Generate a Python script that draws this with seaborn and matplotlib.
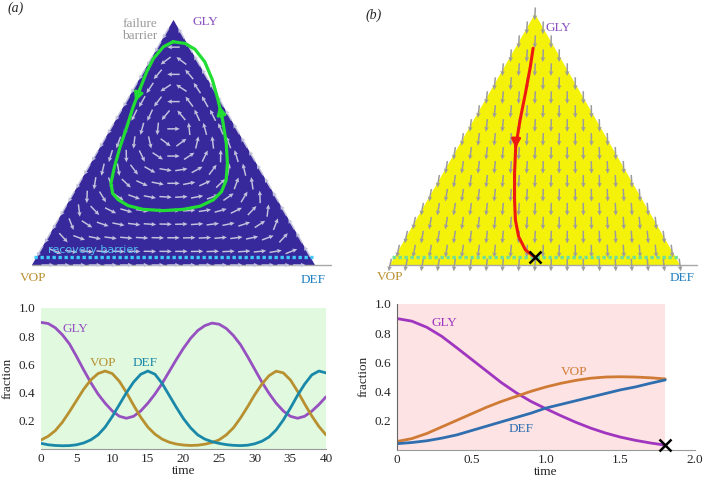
import numpy as np
import pandas as pd
import matplotlib
matplotlib.use("Agg")
import matplotlib.pyplot as plt
import seaborn as sns

# ---- data ----
# (a) cycling dynamics, t = 0..40
time_a = list(range(41))
gly_a = [0.898, 0.89, 0.86, 0.81, 0.745, 0.655, 0.56, 0.47, 0.39, 0.325,
         0.27, 0.232, 0.218, 0.232, 0.27, 0.325, 0.39, 0.465, 0.55, 0.635,
         0.715, 0.785, 0.84, 0.875, 0.893, 0.885, 0.855, 0.805, 0.74, 0.655,
         0.565, 0.475, 0.395, 0.325, 0.27, 0.232, 0.218, 0.232, 0.268, 0.315, 0.37]
vop_a = [0.064, 0.09, 0.13, 0.19, 0.265, 0.345, 0.425, 0.49, 0.535, 0.553,
         0.535, 0.48, 0.40, 0.31, 0.225, 0.155, 0.105, 0.07, 0.048, 0.035,
         0.028, 0.025, 0.027, 0.034, 0.046, 0.065, 0.10, 0.15, 0.22, 0.30,
         0.385, 0.46, 0.52, 0.552, 0.54, 0.49, 0.41, 0.32, 0.235, 0.16, 0.10]
def_a = [0.04, 0.03, 0.025, 0.023, 0.024, 0.03, 0.043, 0.065, 0.10, 0.155,
         0.23, 0.315, 0.40, 0.475, 0.53, 0.553, 0.53, 0.465, 0.38, 0.295,
         0.215, 0.15, 0.10, 0.07, 0.052, 0.04, 0.031, 0.026, 0.024, 0.027,
         0.037, 0.055, 0.085, 0.135, 0.205, 0.29, 0.38, 0.46, 0.525, 0.553, 0.54]

# (a) closed orbit drawn in the simplex (GLY and DEF fractions along the loop)
loop_gly = [0.911, 0.890, 0.843, 0.789, 0.721, 0.645, 0.565, 0.483, 0.401, 0.334,
            0.292, 0.266, 0.242, 0.227, 0.222, 0.227, 0.240, 0.266, 0.299, 0.346,
            0.415, 0.497, 0.591, 0.673, 0.755, 0.829, 0.880, 0.904, 0.911]
loop_def = [0.043, 0.019, 0.008, 0.011, 0.022, 0.035, 0.053, 0.070, 0.091, 0.112,
            0.139, 0.172, 0.219, 0.279, 0.353, 0.421, 0.474, 0.508, 0.520, 0.513,
            0.483, 0.438, 0.378, 0.321, 0.260, 0.196, 0.136, 0.089, 0.043]

# (b) collapse dynamics, t = 0..1.8
time_b = [0.0, 0.1, 0.2, 0.3, 0.4, 0.5, 0.6, 0.7, 0.8, 0.9,
          1.0, 1.1, 1.2, 1.3, 1.4, 1.5, 1.6, 1.7, 1.8]
gly_b = [0.90, 0.882, 0.84, 0.778, 0.70, 0.62, 0.54, 0.46, 0.39, 0.33,
         0.28, 0.232, 0.187, 0.147, 0.113, 0.085, 0.063, 0.045, 0.03]
vop_b = [0.055, 0.075, 0.11, 0.155, 0.20, 0.245, 0.29, 0.33, 0.365, 0.40,
         0.43, 0.455, 0.475, 0.49, 0.498, 0.50, 0.498, 0.493, 0.485]
def_b = [0.04, 0.048, 0.06, 0.078, 0.10, 0.13, 0.16, 0.19, 0.22, 0.25,
         0.285, 0.31, 0.335, 0.36, 0.385, 0.41, 0.43, 0.455, 0.478]

# (b) trajectory drawn in the simplex
path_gly = [0.863, 0.790, 0.684, 0.577, 0.471, 0.365, 0.259, 0.179, 0.113, 0.060, 0.031]
path_def = [0.062, 0.089, 0.125, 0.160, 0.198, 0.247, 0.300, 0.343, 0.387, 0.437, 0.484]

barrier_level = 0.033   # GLY fraction of the dotted barrier line

# colours
col_a = {"GLY": "#9650c0", "VOP": "#b89030", "DEF": "#1a88a8"}
col_b = {"GLY": "#a035c0", "VOP": "#d07b35", "DEF": "#2f6fb0"}

sns.set_style("white")
plt.rcParams["font.family"] = "serif"
plt.rcParams["font.serif"] = ["Liberation Serif", "DejaVu Serif"]

W, H = 704, 483
fig = plt.figure(figsize=(W / 100, H / 100), dpi=100)
S3 = np.sqrt(3) / 2


def px_axes(x0, y0, x1, y1):
    return fig.add_axes([x0 / W, 1 - y1 / H, (x1 - x0) / W, (y1 - y0) / H])


def tern(gly, dfc):
    gly = np.asarray(gly, float)
    dfc = np.asarray(dfc, float)
    return dfc + gly / 2, gly * S3


def tri_axes(ox, oy, s, box):
    x0, y0, x1, y1 = box
    ax = px_axes(x0, y0, x1, y1)
    ax.set_xlim((x0 - ox) / s, (x1 - ox) / s)
    ax.set_ylim((oy - y1) / s, (oy - y0) / s)
    ax.axis("off")
    return ax


def grid(n):
    g, d = [], []
    for j in range(n + 1):
        for i in range(n + 1 - j):
            g.append(j / n)
            d.append(i / n)
    g = np.array(g)
    d = np.array(d)
    return g, 1 - g - d, d


def arrows(ax, X, Y, U, V, color, L=0.044):
    nrm = np.hypot(U, V)
    ok = nrm > 1e-9
    ax.quiver(X[ok], Y[ok], U[ok] / nrm[ok] * L, V[ok] / nrm[ok] * L,
              angles="xy", scale_units="xy", scale=1, pivot="mid",
              color=color, width=0.0045, headwidth=3, headlength=3.2,
              headaxislength=2.8, zorder=2)


# ---------------- (a) simplex ----------------
axT = tri_axes(32, 265, 283, (12, 0, 342, 290))
axT.fill([0, 1, 0.5], [0, 0, S3], color="#37289c", zorder=1, lw=0)
g, v, d = grid(18)
A = np.array([[0, -1, 1], [1, 0, -2.55], [-1, 2.55, 0]])
P = np.vstack([g, v, d])
F = A @ P
phi = (P * F).sum(axis=0)
dP = P * (F - phi)
X, Y = tern(g, d)
arrows(axT, X, Y, dP[2] + dP[0] / 2, dP[0] * S3, "#c2c2dc")
axT.plot([0, 1.055], [0, 0], color="#a8a8a8", lw=1, zorder=1.5)
yb = barrier_level * S3
axT.plot([yb / np.sqrt(3) - 0.01, 1 - yb / np.sqrt(3) + 0.01], [yb, yb],
         ls=(0, (1, 0.8)), lw=2.4, color="#3fc8f8", zorder=3)

lx, ly = tern(loop_gly, loop_def)
loop = pd.DataFrame({"x": lx, "y": ly})
sns.lineplot(data=loop, x="x", y="y", sort=False, estimator=None,
             color="#22dd33", lw=2.3, ax=axT, zorder=4)
for k in (4, 22):
    axT.annotate("", xy=(lx[k + 1], ly[k + 1]), xytext=(lx[k], ly[k]),
                 arrowprops=dict(arrowstyle="-|>", color="#22dd33", lw=2,
                                 mutation_scale=13, shrinkA=0, shrinkB=4),
                 zorder=5)
axT.set_xlabel("")
axT.set_ylabel("")
axT.text(0.004, -0.045, "VOP", color=col_a["VOP"], fontsize=9.5, ha="center", va="center")
axT.text(0.993, -0.053, "DEF", color="#2080c0", fontsize=9.5, ha="center", va="center")
axT.text(0.611, 0.86, "GLY", color="#8a50c0", fontsize=9.5, ha="center", va="center")
axT.text(0.442, 0.83, "failure\nbarrier", color="#9a9a9a", fontsize=9.5,
         ha="right", va="center", linespacing=1.0)
axT.text(0.056, 0.053, "recovery barrier", color="#55bbee", fontsize=8,
         family="DejaVu Sans", ha="left", va="center", zorder=5)

# ---------------- (b) simplex ----------------
axU = tri_axes(390, 265, 290, (362, 0, 704, 290))
axU.fill([0, 1, 0.5], [0, 0, S3], color="#f5f20a", zorder=1, lw=0)
g, v, d = grid(18)
X, Y = tern(g, d)
# nearly downward flow, fanning out slightly
arrows(axU, X, Y, 0.35 * (X - 0.5) - 0.05, -np.ones_like(X), "#9c9c9c")
axU.plot([0, 1.06], [0, 0], color="#a8a8a8", lw=1, zorder=1.5)
axU.plot([yb / np.sqrt(3) - 0.01, 1 - yb / np.sqrt(3) + 0.01], [yb, yb],
         ls=(0, (1, 0.8)), lw=2.4, color="#6fe09a", zorder=3)
rx, ry = tern(path_gly, path_def)
path = pd.DataFrame({"x": rx, "y": ry})
sns.lineplot(data=path, x="x", y="y", sort=False, estimator=None,
             color="#ee1a10", lw=2.2, ax=axU, zorder=4)
axU.annotate("", xy=(rx[5], ry[5]), xytext=(rx[4], ry[4]),
             arrowprops=dict(arrowstyle="-|>", color="#ee1a10", lw=2,
                             mutation_scale=13, shrinkA=0, shrinkB=18), zorder=5)
axU.plot(rx[-1], ry[-1], marker="x", color="k", ms=8, mew=1.8, zorder=6)
axU.set_xlabel("")
axU.set_ylabel("")
axU.text(0.0, -0.042, "VOP", color=col_a["VOP"], fontsize=9.5, ha="center", va="center")
axU.text(1.007, -0.045, "DEF", color="#2080c0", fontsize=9.5, ha="center", va="center")
axU.text(0.58, 0.817, "GLY", color="#8a50c0", fontsize=9.5, ha="center", va="center")

# ---------------- time series ----------------
def style_ts(ax, spine_left):
    for s in ("top", "right"):
        ax.spines[s].set_visible(False)
    ax.spines["left"].set_visible(spine_left)
    ax.spines["bottom"].set_color("#9a9a9a")
    ax.spines["left"].set_color("#666666")
    ax.tick_params(axis="x", direction="in", length=3, color="#9a9a9a",
                   labelsize=9.5, pad=3)
    ax.tick_params(axis="y", direction="in", length=3 if spine_left else 0,
                   color="#666666", labelsize=9.5, pad=4)
    ax.set_ylim(0, 1)
    ax.set_yticks([0.2, 0.4, 0.6, 0.8, 1.0])
    ax.set_yticklabels(["0.2", "0.4", "0.6", "0.8", "1.0"])
    ax.set_xlabel("time", fontsize=9.5, labelpad=0)
    ax.set_ylabel("fraction", fontsize=9.5, labelpad=4)


axA = px_axes(41, 308, 326, 449)
axA.set_facecolor("#e0f9df")
dfa = pd.DataFrame({"time": time_a, "GLY": gly_a, "VOP": vop_a, "DEF": def_a})
for name in ("GLY", "VOP", "DEF"):
    sns.lineplot(data=dfa, x="time", y=name, color=col_a[name], lw=2, ax=axA)
axA.set_xlim(0, 40)
axA.set_xticks(range(0, 41, 5))
style_ts(axA, False)
axA.text(4.8, 0.85, "GLY", color=col_a["GLY"], fontsize=9.5, ha="center", va="center")
axA.text(8.7, 0.61, "VOP", color=col_a["VOP"], fontsize=9.5, ha="center", va="center")
axA.text(14.6, 0.61, "DEF", color=col_a["DEF"], fontsize=9.5, ha="center", va="center")

axB = px_axes(397, 304, 695, 449.5)
axB.axvspan(0, time_b[-1], color="#fde3e3", zorder=0, lw=0)
dfb = pd.DataFrame({"time": time_b, "GLY": gly_b, "VOP": vop_b, "DEF": def_b})
for name in ("GLY", "VOP", "DEF"):
    sns.lineplot(data=dfb, x="time", y=name, color=col_b[name], lw=2, ax=axB)
axB.plot(time_b[-1], gly_b[-1], marker="x", color="k", ms=8, mew=1.8,
         clip_on=False, zorder=6)
axB.set_xlim(0, 2)
axB.set_xticks([0, 0.5, 1.0, 1.5, 2.0])
axB.set_xticklabels(["0", "0.5", "1.0", "1.5", "2.0"])
style_ts(axB, True)
axB.text(0.32, 0.87, "GLY", color=col_b["GLY"], fontsize=9.5, ha="center", va="center")
axB.text(1.19, 0.53, "VOP", color=col_b["VOP"], fontsize=9.5, ha="center", va="center")
axB.text(0.83, 0.14, "DEF", color=col_b["DEF"], fontsize=9.5, ha="center", va="center")

fig.text(8 / W, 1 - 8 / H, "(a)", style="italic", fontsize=10, ha="left", va="center")
fig.text(366 / W, 1 - 15 / H, "(b)", style="italic", fontsize=10, ha="left", va="center")

fig.savefig("out.png", dpi=100)
